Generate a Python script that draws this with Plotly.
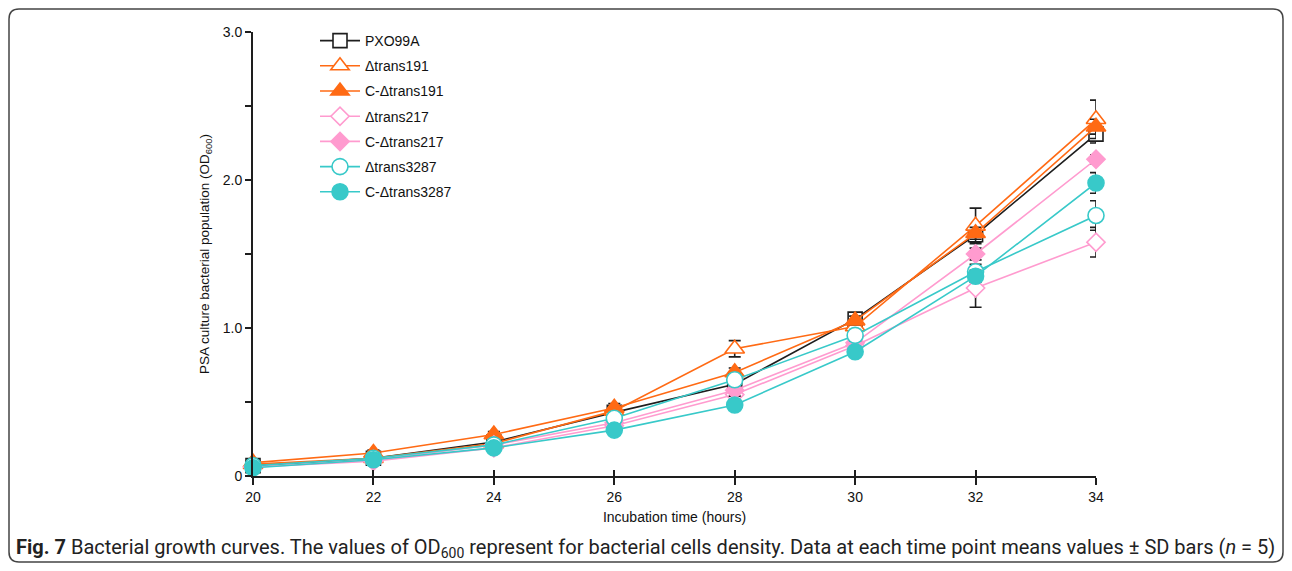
import plotly.graph_objects as go

hours = [20, 22, 24, 26, 28, 30, 32, 34]

series_names = ["PXO99A", "Δtrans191", "C-Δtrans191", "Δtrans217",
                "C-Δtrans217", "Δtrans3287", "C-Δtrans3287"]

pxo99a = [0.07, 0.12, 0.23, 0.43, 0.62, 1.06, 1.63, 2.31]
d191 = [0.08, 0.12, 0.22, 0.44, 0.86, 1.01, 1.69, 2.41]
c191 = [0.09, 0.155, 0.28, 0.46, 0.70, 1.05, 1.64, 2.36]
d217 = [0.06, 0.10, 0.19, 0.34, 0.55, 0.88, 1.27, 1.58]
c217 = [0.06, 0.11, 0.21, 0.36, 0.58, 0.90, 1.50, 2.14]
d3287 = [0.07, 0.12, 0.21, 0.39, 0.65, 0.95, 1.38, 1.76]
c3287 = [0.055, 0.11, 0.19, 0.31, 0.48, 0.84, 1.35, 1.98]

sd_pxo99a = [0.02, 0.02, 0.03, 0.03, 0.05, 0.04, 0.05, 0.06]
sd_d191 = [0.02, 0.02, 0.03, 0.03, 0.055, 0.04, 0.12, 0.13]
sd_c191 = [0.02, 0.02, 0.02, 0.03, 0.03, 0.03, 0.04, 0.05]
sd_d217 = [0.02, 0.02, 0.02, 0.03, 0.04, 0.04, 0.13, 0.10]
sd_c217 = [0.02, 0.02, 0.02, 0.03, 0.04, 0.03, 0.04, 0.03]
sd_d3287 = [0.02, 0.02, 0.02, 0.03, 0.04, 0.04, 0.05, 0.10]
sd_c3287 = [0.02, 0.02, 0.02, 0.03, 0.03, 0.03, 0.04, 0.07]

y_tickvals = [0, 1.0, 2.0, 3.0]
y_ticktext = ["0", "1.0", "2.0", "3.0"]

# the page body has an 8px margin; size the figure so no scrollbar appears
OFF = 8
W, H = 1292 - 2 * OFF, 571 - 2 * OFF
ML, MT = 253 - OFF, 32 - OFF
PW, PH = 843, 444
MR = W - ML - PW
MB = H - MT - PH


def px(xp):
    return (xp - OFF - ML) / PW


def py(yp):
    return (MT + PH - (yp - OFF)) / PH


BLACK = "#1e1e1e"
ORANGE = "#FF6A14"
PINK = "#FF9BCF"
TEAL = "#38C9C9"

styles = [
    dict(color=BLACK, symbol="square", fill="white", size=14),
    dict(color=ORANGE, symbol="triangle-up", fill="white", size=17),
    dict(color=ORANGE, symbol="triangle-up", fill=ORANGE, size=17),
    dict(color=PINK, symbol="diamond", fill="white", size=14),
    dict(color=PINK, symbol="diamond", fill=PINK, size=14),
    dict(color=TEAL, symbol="circle", fill="white", size=16),
    dict(color=TEAL, symbol="circle", fill=TEAL, size=16),
]

values = [pxo99a, d191, c191, d217, c217, d3287, c3287]
sds = [sd_pxo99a, sd_d191, sd_c191, sd_d217, sd_c217, sd_d3287, sd_c3287]

fig = go.Figure()
for i, (name, vals, sd, st) in enumerate(zip(series_names, values, sds, styles)):
    fig.add_trace(go.Scatter(
        x=hours, y=vals, name=name, mode="lines+markers",
        legendgroup=f"g{i}",
        line=dict(color=st["color"], width=1.6),
        marker=dict(symbol=st["symbol"], size=st["size"], color=st["fill"],
                    line=dict(color=st["color"], width=1.6)),
        error_y=dict(type="data", array=sd, visible=True, color=BLACK,
                     thickness=1.6, width=6),
        cliponaxis=False,
    ))

# dummy trace so the crossing-tick overlay axis is drawn
fig.add_trace(go.Scatter(x=[], y=[], xaxis="x2", showlegend=False,
                         hoverinfo="skip"))

axis_font = dict(family="Liberation Sans, Arial, sans-serif", size=14, color="#111")

fig.update_layout(
    width=W, height=H,
    margin=dict(l=ML, r=MR, t=MT, b=MB, pad=0),
    paper_bgcolor="white", plot_bgcolor="white",
    font=axis_font,
    showlegend=True,
    legend=dict(x=px(315), y=py(25), xanchor="left", yanchor="top",
                bgcolor="rgba(0,0,0,0)", tracegroupgap=4,
                font=dict(family="Liberation Sans, Arial, sans-serif", size=14, color="#111"),
                itemwidth=40),
    xaxis=dict(range=[20, 34], tickvals=hours, ticks="outside", ticklen=7,
               tickwidth=1.8, tickcolor=BLACK, showline=True, linecolor=BLACK,
               linewidth=2, showgrid=False, zeroline=False,
               title=dict(text="Incubation time (hours)", standoff=8,
                          font=dict(size=14)),
               tickfont=dict(size=14)),
    xaxis2=dict(range=[20, 34], tickvals=hours, ticks="inside", ticklen=6,
                tickwidth=1.8, tickcolor=BLACK, overlaying="x", anchor="y",
                side="bottom", showticklabels=False, showline=False,
                showgrid=False, zeroline=False),
    yaxis=dict(range=[0, 3], tickvals=y_tickvals, ticktext=y_ticktext,
               ticks="outside", ticklen=6, tickwidth=1.8, tickcolor=BLACK,
               minor=dict(tickvals=[0.5, 1.5, 2.5], ticks="outside", ticklen=6,
                          tickwidth=1.8, tickcolor=BLACK),
               showline=True, linecolor=BLACK, linewidth=2, showgrid=False,
               zeroline=False,
               title=dict(text="PSA culture bacterial population (OD<sub>600</sub>)",
                          standoff=10, font=dict(size=13.5)),
               tickfont=dict(size=14)),
)

# rounded frame around the figure
x0, x1 = px(9), px(1283)
y0, y1 = py(562), py(9)
rx = 10 / PW
ry = 10 / PH
path = (f"M {x0 + rx},{y1} L {x1 - rx},{y1} Q {x1},{y1} {x1},{y1 - ry} "
        f"L {x1},{y0 + ry} Q {x1},{y0} {x1 - rx},{y0} "
        f"L {x0 + rx},{y0} Q {x0},{y0} {x0},{y0 + ry} "
        f"L {x0},{y1 - ry} Q {x0},{y1} {x0 + rx},{y1} Z")
fig.add_shape(type="path", path=path, xref="paper", yref="paper",
              line=dict(color="#444", width=1.5), fillcolor="rgba(0,0,0,0)",
              layer="below")

fig.add_annotation(
    xref="paper", yref="paper", x=px(14), y=py(548), xanchor="left",
    yanchor="middle", showarrow=False,
    text=("<b>Fig. 7</b> Bacterial growth curves. The values of OD<sub>600</sub> "
          "represent for bacterial cells density. Data at each time point means "
          "values ± SD bars (<i>n</i> = 5)"),
    font=dict(family="Roboto, sans-serif", size=20, color="#222"),
)

fig.write_html("out.html")
